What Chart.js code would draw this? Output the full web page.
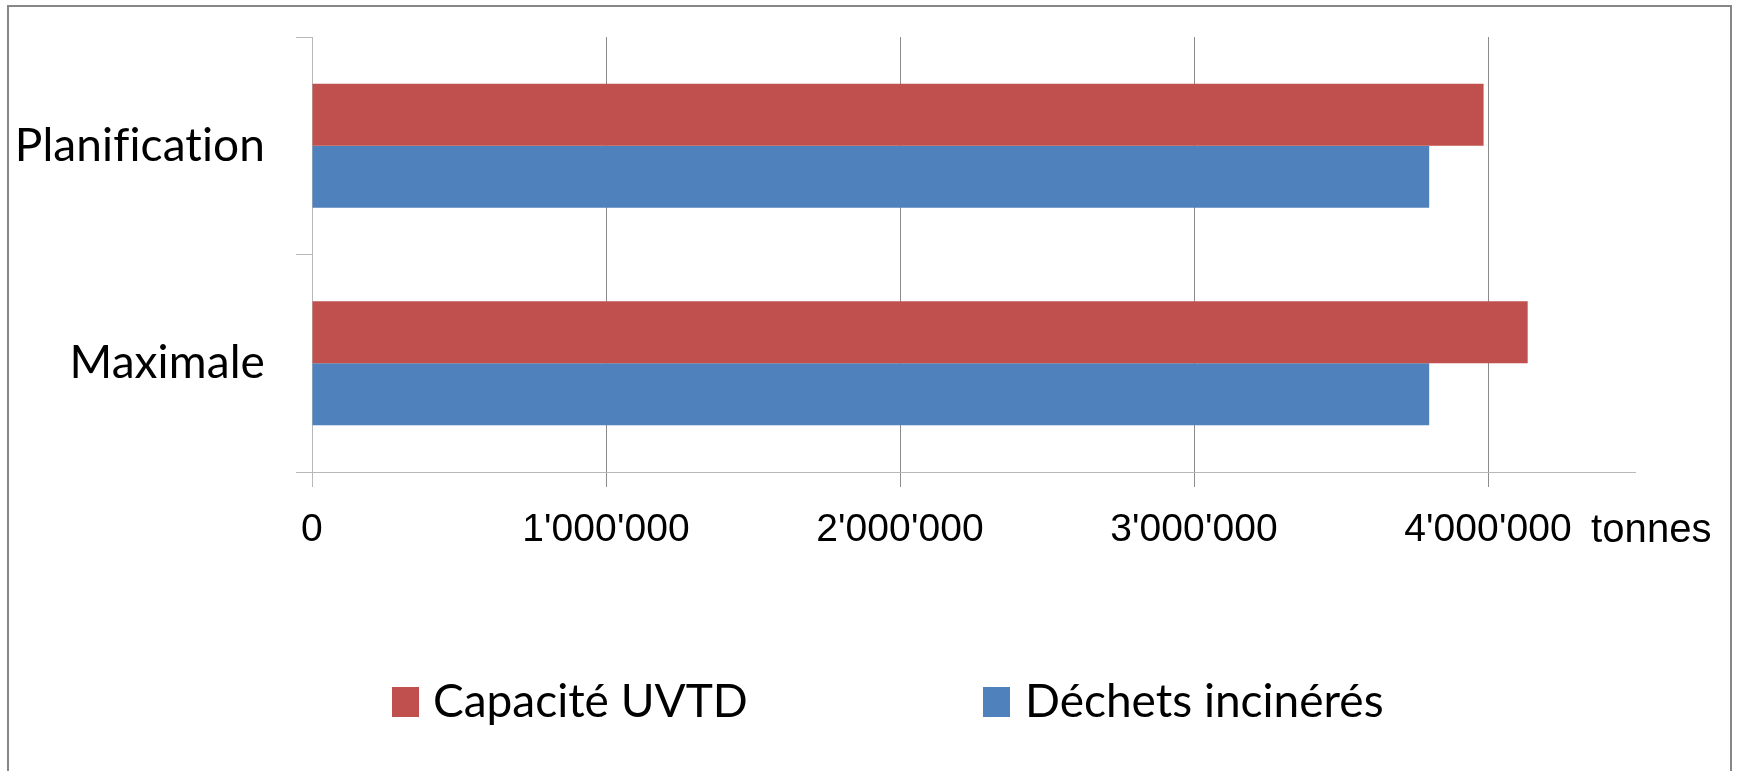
<!DOCTYPE html>
<html>
<head>
<meta charset="utf-8">
<script src="https://cdn.jsdelivr.net/npm/chart.js@4/dist/chart.umd.min.js"></script>
<style>
  html, body { margin: 0; padding: 0; width: 1740px; height: 771px; overflow: hidden; background: #fff; }
  #frame { position: absolute; left: 7px; top: 5px; width: 1721px; height: 900px;
           border: 2px solid #878787; border-bottom: none; }
  #chart { position: absolute; left: 0; top: 0; }
  .leg { position: absolute; font-family: Lato, "Open Sans", sans-serif; font-size: 46px; color: #000; line-height: 46px; white-space: nowrap; }
  .sw { position: absolute; width: 27px; height: 30px; }
</style>
</head>
<body>
<div id="frame"></div>
<canvas id="chart" width="1740" height="771"></canvas>
<div class="sw" id="sw0" style="left:392px; top:687px;"></div>
<div class="leg" id="lg0" style="left:433px; top:677px;"></div>
<div class="sw" id="sw1" style="left:983px; top:687px;"></div>
<div class="leg" id="lg1" style="left:1025px; top:677px;"></div>
<script>
const categories = ["Planification", "Maximale"];
const seriesNames = ["Capacité UVTD", "Déchets incinérés"];
const capaciteUVTD = [3985000, 4135000];
const dechetsIncineres = [3800000, 3800000];
const tickValues = [0, 1000000, 2000000, 3000000, 4000000];
const tickLabels = ["0", "1'000'000", "2'000'000", "3'000'000", "4'000'000"];
const axisMax = 4500000;
const unitLabel = "tonnes";
const colors = ["#C0504D", "#4F81BD"];

// HTML legend (real text)
[0, 1].forEach(i => {
  document.getElementById('sw' + i).style.background = colors[i];
  document.getElementById('lg' + i).textContent = seriesNames[i];
});

const noLigaturePlugin = {
  id: 'noLigature',
  beforeDraw(chart) {
    if ('letterSpacing' in chart.ctx) chart.ctx.letterSpacing = '0.1px';
  }
};

const unitPlugin = {
  id: 'unitLabel',
  afterDraw(chart) {
    const ctx = chart.ctx;
    const xs = chart.scales.x;
    ctx.save();
    ctx.font = '40px "Liberation Sans", Arial, sans-serif';
    ctx.fillStyle = '#000';
    ctx.textAlign = 'left';
    ctx.textBaseline = 'alphabetic';
    ctx.fillText(unitLabel, xs.right - 44, chart.chartArea.bottom + 70);
    ctx.restore();
  }
};

new Chart(document.getElementById('chart'), {
  type: 'bar',
  data: {
    labels: categories,
    datasets: [
      { label: seriesNames[0], data: capaciteUVTD, backgroundColor: colors[0],
        categoryPercentage: 0.57, barPercentage: 1.0, borderWidth: 0 },
      { label: seriesNames[1], data: dechetsIncineres, backgroundColor: colors[1],
        categoryPercentage: 0.57, barPercentage: 1.0, borderWidth: 0 }
    ]
  },
  plugins: [noLigaturePlugin, unitPlugin],
  options: {
    indexAxis: 'y',
    responsive: false,
    animation: false,
    layout: { padding: { left: 0, top: 37, right: 105, bottom: 199 } },
    plugins: {
      legend: { display: false },
      tooltip: { enabled: false }
    },
    scales: {
      x: {
        type: 'linear',
        min: 0,
        max: axisMax,
        afterBuildTicks(scale) { scale.ticks = tickValues.map(v => ({ value: v })); },
        afterFit(scale) { scale.height = 100; scale.paddingLeft = 0; scale.paddingRight = 0; },
        ticks: {
          callback: (v) => { const i = tickValues.indexOf(v); return i >= 0 ? tickLabels[i] : ''; },
          font: { family: '"Liberation Sans", Arial, sans-serif', size: 39 },
          color: '#000',
          padding: 20,
          maxRotation: 0,
          autoSkip: false
        },
        grid: {
          color: (c) => (c.index === 0 ? '#b8b8b8' : '#8c8c8c'),
          tickColor: (c) => (c.index === 0 ? '#b8b8b8' : '#8c8c8c'),
          tickLength: 15,
          drawTicks: true,
          lineWidth: 1
        },
        border: { color: '#b8b8b8', width: 1 }
      },
      y: {
        type: 'category',
        offset: true,
        afterFit(scale) { scale.width = 312; scale.paddingTop = 0; scale.paddingBottom = 0; },
        ticks: {
          font: { family: 'Lato, "Open Sans", sans-serif', size: 46 },
          color: '#000',
          padding: 31
        },
        grid: {
          offset: true,
          drawOnChartArea: false,
          drawTicks: true,
          tickLength: 16,
          color: '#b8b8b8'
        },
        border: { color: '#b8b8b8', width: 1 }
      }
    }
  }
});
</script>
</body>
</html>
